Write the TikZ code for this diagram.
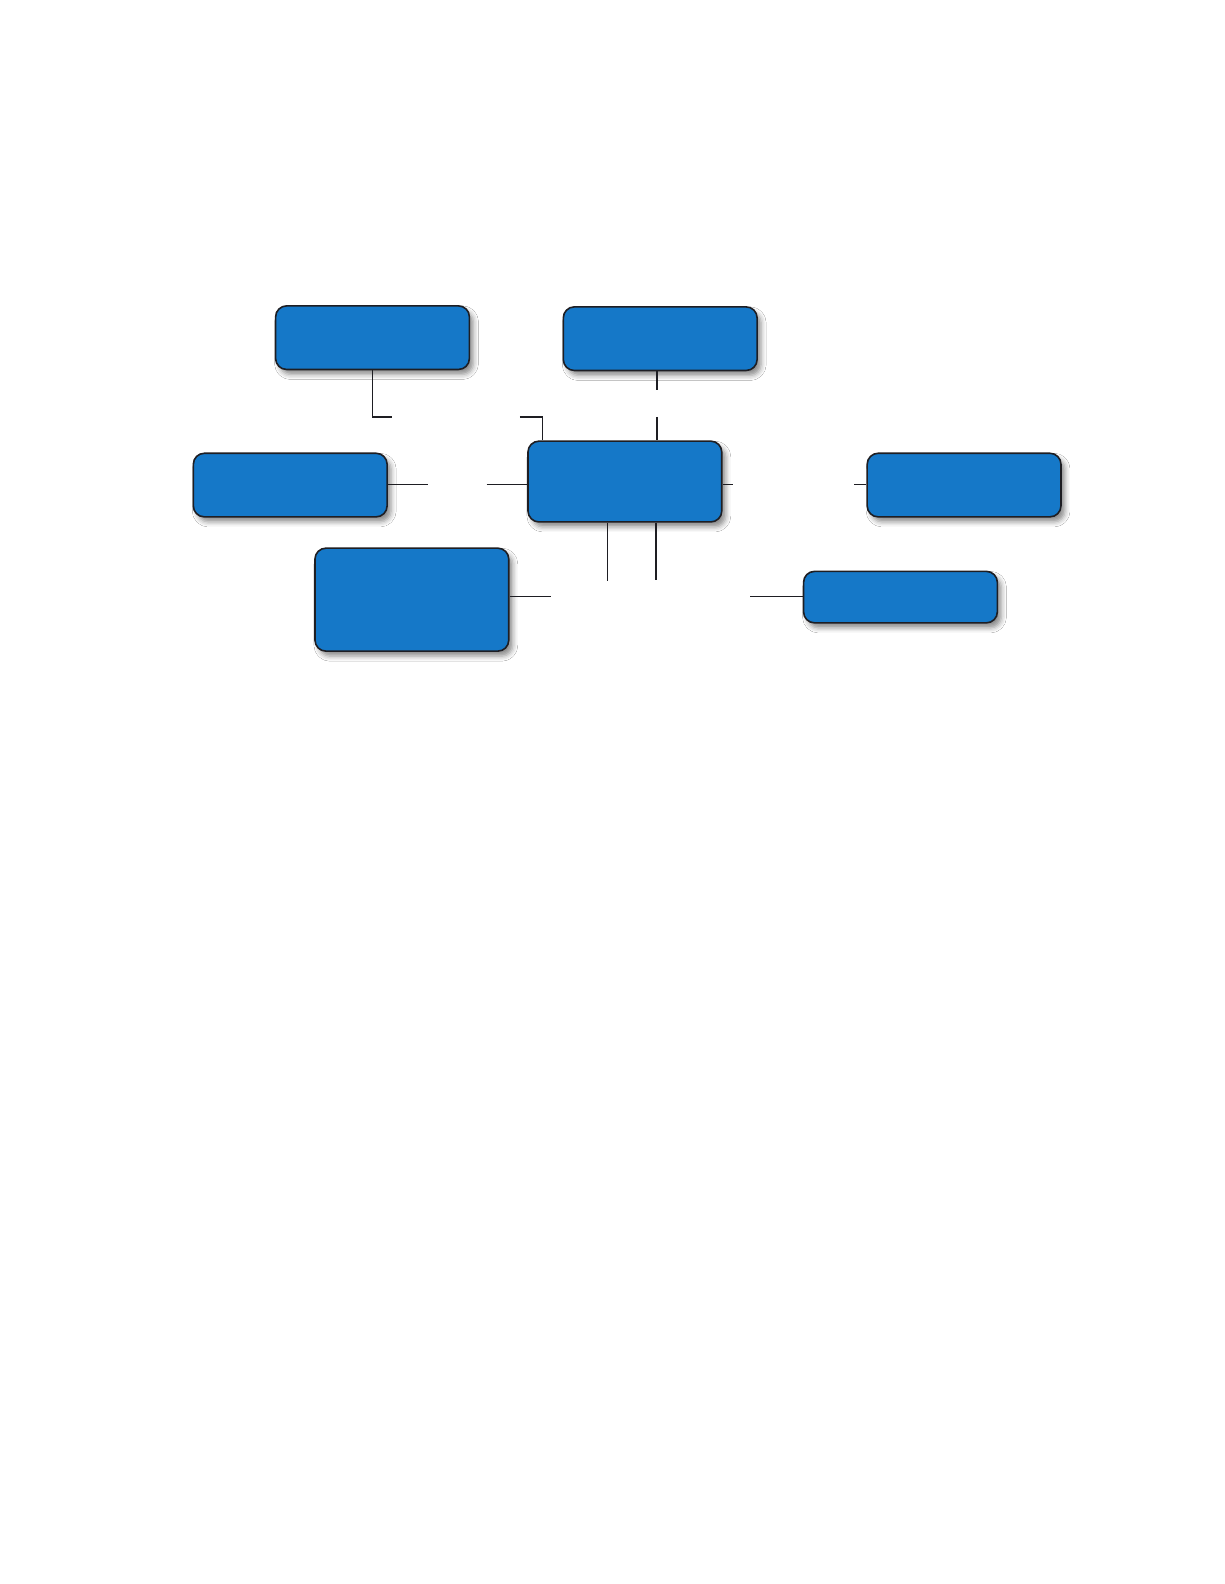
\documentclass[tikz,border=0pt]{standalone}
\usetikzlibrary{shadows.blur,calc}
\definecolor{boxblue}{RGB}{21,120,200}
\definecolor{edgecol}{RGB}{30,30,35}
\tikzset{
  bluebox/.style={draw=edgecol, line width=1.6pt, fill=boxblue, rounded corners=11pt,
    minimum width=193.8pt, inner sep=0pt,
    blur shadow={shadow xshift=4pt, shadow yshift=-5pt, shadow blur radius=5pt, shadow opacity=45}},
  link/.style={draw=edgecol, line width=1.5pt}
}
\begin{document}
\begin{tikzpicture}[x=1.0095pt,y=-1.0095pt]
\fill[white] (0,0) rectangle (1212.5,1569.1);
\node[bluebox, minimum height=63.6pt] (A) at (369,334.5) {};
\node[bluebox, minimum height=63.6pt] (B) at (654,335.5) {};
\node[bluebox, minimum height=63.6pt] (C) at (287.5,480.5) {};
\node[bluebox, minimum height=80.8pt] (D) at (619,477) {};
\node[bluebox, minimum height=63.6pt] (E) at (955,480.5) {};
\node[bluebox, minimum height=103pt] (F) at (408,594) {};
\node[bluebox, minimum height=51.5pt] (G) at (892,591.5) {};
% free ends of connector pieces
\coordinate (a1) at (388,413);
\coordinate (a2) at (515,413);
\coordinate (b1) at (651,386);
\coordinate (b2) at (651,413);
\coordinate (c1) at (424,480);
\coordinate (c2) at (482,480);
\coordinate (e1) at (726,480);
\coordinate (e2) at (846,480);
\coordinate (d1) at (602,576);
\coordinate (d2) at (650,575);
\coordinate (f1) at (546,591);
\coordinate (f2) at (743,591);
% A to D
\draw[link] (A.south) |- (a1);
\draw[link] (a2) -| ($(D.north west)+(15,0)$);
% B to D
\draw[link] (b1 |- B.south) -- (b1);
\draw[link] (b2) -- (b2 |- D.north);
% C to D
\draw[link] (C.east |- c1) -- (c1);
\draw[link] (c2) -- (c2 -| D.west);
% D to E
\draw[link] (e1 -| D.east) -- (e1);
\draw[link] (e2) -- (e2 -| E.west);
% D down
\draw[link] (d1 |- D.south) -- (d1);
\draw[link] (d2 |- D.south) -- (d2);
% F to G
\draw[link] (f1 -| F.east) -- (f1);
\draw[link] (f2) -- (f2 -| G.west);
\pgfresetboundingbox
\useasboundingbox (0,0) rectangle (1212.5,1569.1);
\end{tikzpicture}
\end{document}
